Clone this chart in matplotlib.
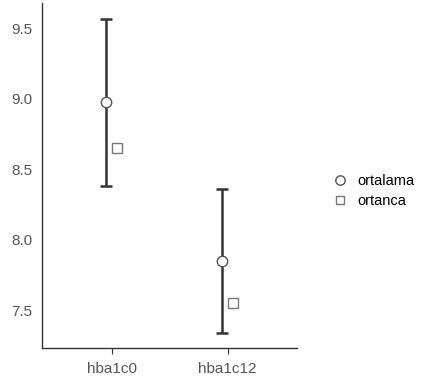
import matplotlib.pyplot as plt
import numpy as np

plt.rcParams['font.family'] = ['Liberation Sans', 'DejaVu Sans']

categories = ['hba1c0', 'hba1c12']
mean_vals = [8.98, 7.85]
ci_low = [8.38, 7.34]
ci_high = [9.57, 8.36]
median_vals = [8.65, 7.55]

x = np.arange(1, len(categories) + 1)
mean_vals = np.array(mean_vals)
yerr = [mean_vals - np.array(ci_low), np.array(ci_high) - mean_vals]

fig = plt.figure(figsize=(4.24, 3.85), dpi=100)
ax = fig.add_axes([0.099, 0.096, 0.602, 0.896])

# mean with interval, median dodged to the right
ax.errorbar(x - 0.05, mean_vals, yerr=yerr, fmt='none', ecolor='#333333',
            elinewidth=1.8, capsize=4.2, capthick=1.8, zorder=2)
ax.plot(x - 0.05, mean_vals, 'o', ms=7.5, mfc='white', mec='#555555',
        mew=1.0, ls='none', label='ortalama', zorder=3)
ax.plot(x + 0.05, median_vals, 's', ms=6.5, mfc='white', mec='#777777',
        mew=1.0, ls='none', label='ortanca', zorder=3)

ax.set_xlim(0.4, 2.6)
ax.set_ylim(7.23, 9.68)
ax.set_xticks(x)
ax.set_xticklabels(categories)
ax.set_yticks([7.5, 8.0, 8.5, 9.0, 9.5])
ax.set_yticklabels(['7.5', '8.0', '8.5', '9.0', '9.5'])

for side in ['top', 'right']:
    ax.spines[side].set_visible(False)
for side in ['left', 'bottom']:
    ax.spines[side].set_color('#333333')
    ax.spines[side].set_linewidth(1.0)
ax.tick_params(axis='x', colors='#333333', length=4, labelsize=11,
               labelcolor='#555555', pad=6)
ax.tick_params(axis='y', length=0, labelsize=11, labelcolor='#555555', pad=7)

leg = ax.legend(loc='center left', bbox_to_anchor=(1.06, 0.455), frameon=False,
                fontsize=10.5, handletextpad=0.2, labelspacing=0.45,
                markerscale=0.9)

fig.savefig('out.png', dpi=100)
